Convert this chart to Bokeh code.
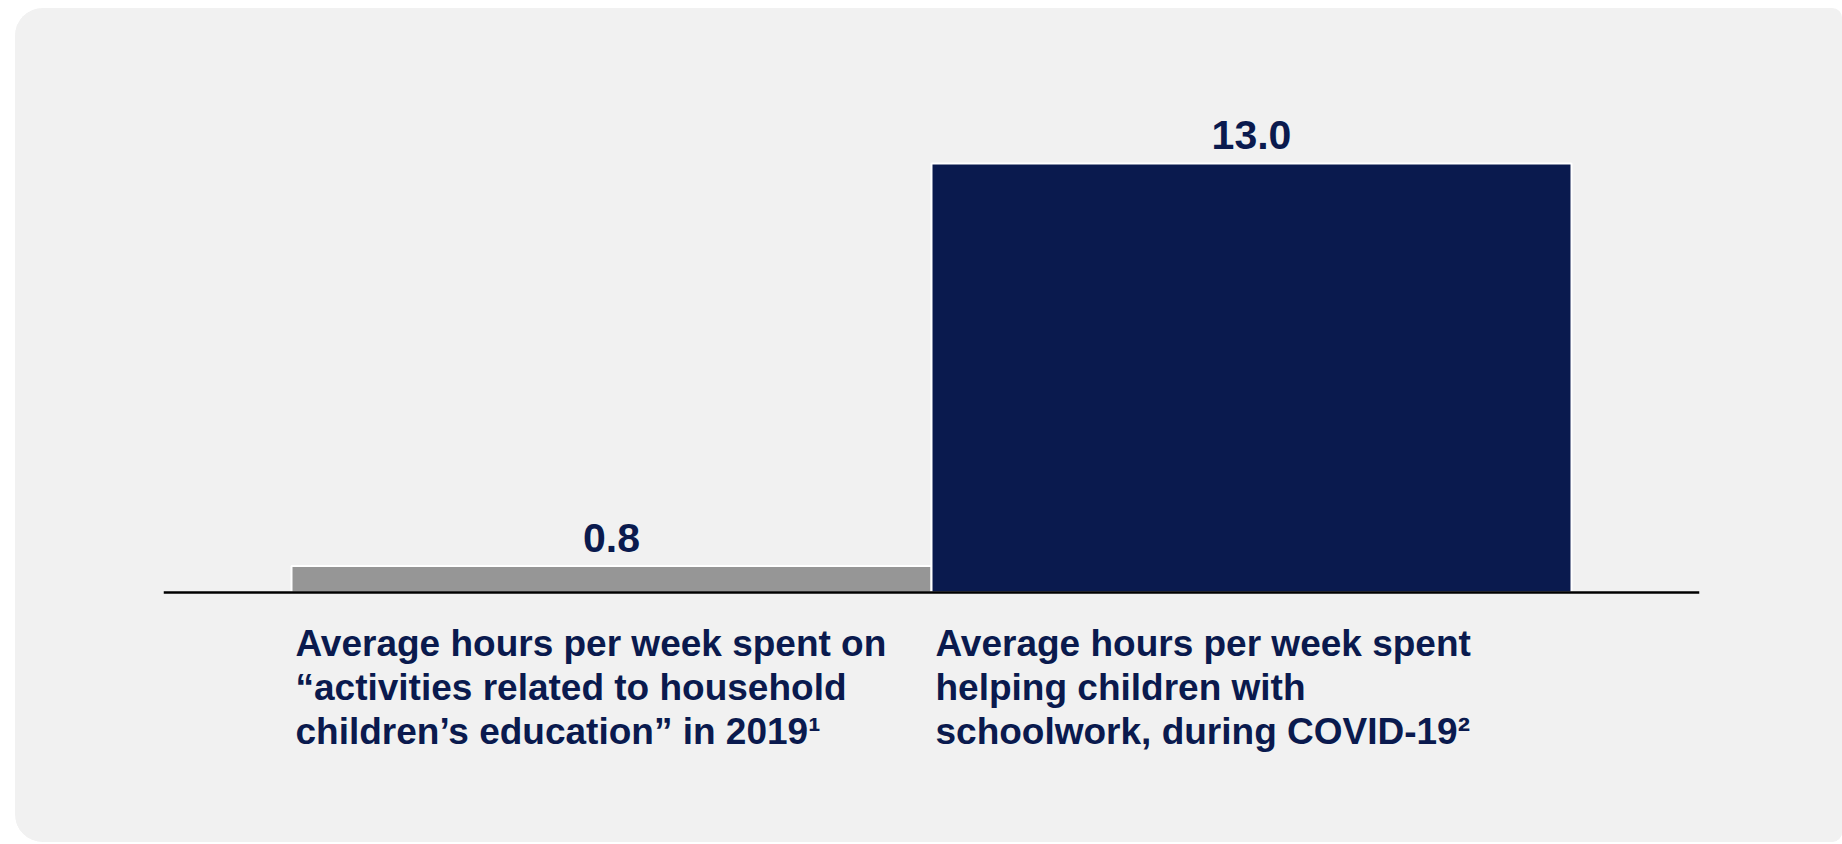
from bokeh.plotting import figure
from bokeh.models import FactorRange, Range1d, Span, ColumnDataSource
from bokeh.core.properties import value
from bokeh.embed import file_html
from bokeh.resources import INLINE

# ---- data ----
categories = ["2019", "COVID-19"]
hours = [0.8, 13.0]
value_labels = ["0.8", "13.0"]
category_labels = [
    "Average hours per week spent on\n\u201cactivities related to household\nchildren\u2019s education\u201d in 2019\u00b9",
    "Average hours per week spent\nhelping children with\nschoolwork, during COVID-19\u00b2",
]
bar_colors = ["#969696", "#0a1a4e"]

NAVY = "#0a1a4e"
PANEL = "#f1f1f1"
FONT = value("Liberation Sans")
TEXT_SHIFT = 14      # empirical baseline correction (px)
LINE_STEP = 44       # px between label lines
LABEL_GAP = 65       # px from axis to first label baseline
VALUE_GAP = 14       # px from bar top to value baseline

src = ColumnDataSource(dict(
    cat=categories,
    hours=hours,
    vlab=value_labels,
    color=bar_colors,
))

# one row per label line
line_cat, line_txt, line_off = [], [], []
for c, lab in zip(categories, category_labels):
    for i, ln in enumerate(lab.split("\n")):
        line_cat.append(c)
        line_txt.append(ln)
        line_off.append(LABEL_GAP - TEXT_SHIFT + i * LINE_STEP)
lines_src = ColumnDataSource(dict(cat=line_cat, txt=line_txt, off=line_off,
                                  base=[0.0] * len(line_cat)))

p = figure(
    x_range=FactorRange(*categories, range_padding=0.2, range_padding_units="absolute"),
    y_range=Range1d(-7.576, 17.697),
    width=1827, height=834,
    output_backend="svg", toolbar_location=None,
    min_border_left=148, min_border_right=143,
    min_border_top=0, min_border_bottom=0,
)
p.styles = {"margin-left": "15px", "margin-top": "8px",
            "border-radius": "28px 10px 10px 28px", "overflow": "hidden",
            "background-color": PANEL}
p.background_fill_color = PANEL
p.border_fill_color = PANEL
p.outline_line_color = None
p.xaxis.visible = False
p.yaxis.visible = False
p.xgrid.visible = False
p.ygrid.visible = False

p.vbar(x="cat", top="hours", bottom=0, width=1.0, source=src,
       fill_color="color", line_color="white", line_width=2)

baseline = Span(location=0, dimension="width", line_color="black", line_width=2.5)
p.add_layout(baseline)

p.text(x="cat", y="hours", text="vlab", source=src,
       text_font=FONT, text_font_style="bold", text_font_size="41px",
       text_color=NAVY, text_align="center", text_baseline="alphabetic",
       y_offset=-(VALUE_GAP + TEXT_SHIFT))

p.text(x="cat", y="base", text="txt", source=lines_src,
       text_font=FONT, text_font_style="bold", text_font_size="37px",
       text_color=NAVY, text_align="left", text_baseline="alphabetic",
       x_offset=-316, y_offset="off")

open("out.html", "w").write(file_html(p, INLINE))
